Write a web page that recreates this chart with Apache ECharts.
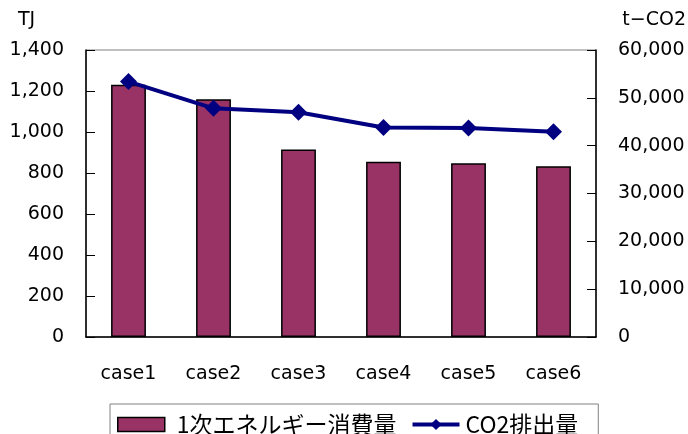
<!DOCTYPE html>
<html>
<head>
<meta charset="utf-8">
<script src="https://cdn.jsdelivr.net/npm/echarts@6/dist/echarts.min.js"></script>
<style>
  html, body { margin: 0; padding: 0; background: #fff; }
  #chart { width: 688px; height: 434px; }
</style>
</head>
<body>
<div id="chart"></div>
<script>
// Cases compared
const categories = ['case1', 'case2', 'case3', 'case4', 'case5', 'case6'];
// Primary energy consumption (TJ)
const energyTJ = [1230, 1160, 915, 855, 848, 833];
// CO2 emissions (t-CO2)
const co2Tons = [53400, 47800, 47000, 43800, 43700, 42900];
// Axis ranges
const energyTicks = { min: 0, max: 1400, interval: 200 };
const co2Ticks = { min: 0, max: 60000, interval: 10000 };

const axisFont = 'DejaVu Sans';
const cjkFont = '"Noto Sans CJK JP"';
const fmt = v => v.toLocaleString('en-US');

const chart = echarts.init(document.getElementById('chart'), null, { renderer: 'canvas' });

chart.setOption({
  animation: false,
  backgroundColor: '#ffffff',
  grid: {
    left: 86, right: 92, top: 50, bottom: 97,
    show: true, borderColor: '#808080', borderWidth: 1, backgroundColor: 'transparent'
  },
  graphic: [
    { type: 'text', left: 18, top: 11, style: { text: 'TJ', font: '19px ' + axisFont, fill: '#000' } },
    { type: 'text', right: 2, top: 11, style: { text: 't\u2212CO2', font: '19px ' + axisFont, fill: '#000' } }
  ],
  legend: {
    left: 110, top: 404,
    padding: [9, 20, 12, 7],
    itemGap: 14,
    itemWidth: 47, itemHeight: 14,
    borderColor: '#808080', borderWidth: 1,
    textStyle: { fontFamily: cjkFont, fontSize: 23, color: '#000' },
    data: [
      {
        name: '1次エネルギー消費量',
        icon: 'rect',
        itemStyle: { color: '#993366', borderColor: '#000', borderWidth: 1.5 },
        textStyle: { padding: [0, 0, 0, 7] }
      },
      {
        name: 'CO2排出量',
        itemStyle: { color: '#000080' },
        lineStyle: { color: '#000080', width: 4 },
        textStyle: { padding: [0, 0, 0, 1] }
      }
    ]
  },
  xAxis: {
    type: 'category',
    data: categories,
    boundaryGap: true,
    axisLine: { lineStyle: { color: '#000', width: 1.5 } },
    axisTick: { inside: true, length: 7, lineStyle: { color: '#000' } },
    axisLabel: { fontFamily: axisFont, fontSize: 19, color: '#000', margin: 28 }
  },
  yAxis: [
    {
      type: 'value',
      min: energyTicks.min, max: energyTicks.max, interval: energyTicks.interval,
      axisLine: { show: true, lineStyle: { color: '#000', width: 1.5 } },
      axisTick: { show: true, inside: true, length: 9, lineStyle: { color: '#000' } },
      splitLine: { show: false },
      axisLabel: { fontFamily: axisFont, fontSize: 19, color: '#000', margin: 22, formatter: fmt }
    },
    {
      type: 'value',
      position: 'right',
      min: co2Ticks.min, max: co2Ticks.max, interval: co2Ticks.interval,
      axisLine: { show: true, lineStyle: { color: '#000', width: 1.5 } },
      axisTick: { show: true, inside: true, length: 9, lineStyle: { color: '#000' } },
      splitLine: { show: false },
      axisLabel: { fontFamily: axisFont, fontSize: 19, color: '#000', margin: 22, formatter: fmt }
    }
  ],
  series: [
    {
      name: '1次エネルギー消費量',
      type: 'bar',
      yAxisIndex: 0,
      data: energyTJ,
      barWidth: '41%',
      itemStyle: { color: '#993366', borderColor: '#000', borderWidth: 1.5 }
    },
    {
      name: 'CO2排出量',
      type: 'line',
      yAxisIndex: 1,
      data: co2Tons,
      symbol: 'diamond',
      symbolSize: 17,
      lineStyle: { color: '#000080', width: 4 },
      itemStyle: { color: '#000080' }
    }
  ]
});
</script>
</body>
</html>
